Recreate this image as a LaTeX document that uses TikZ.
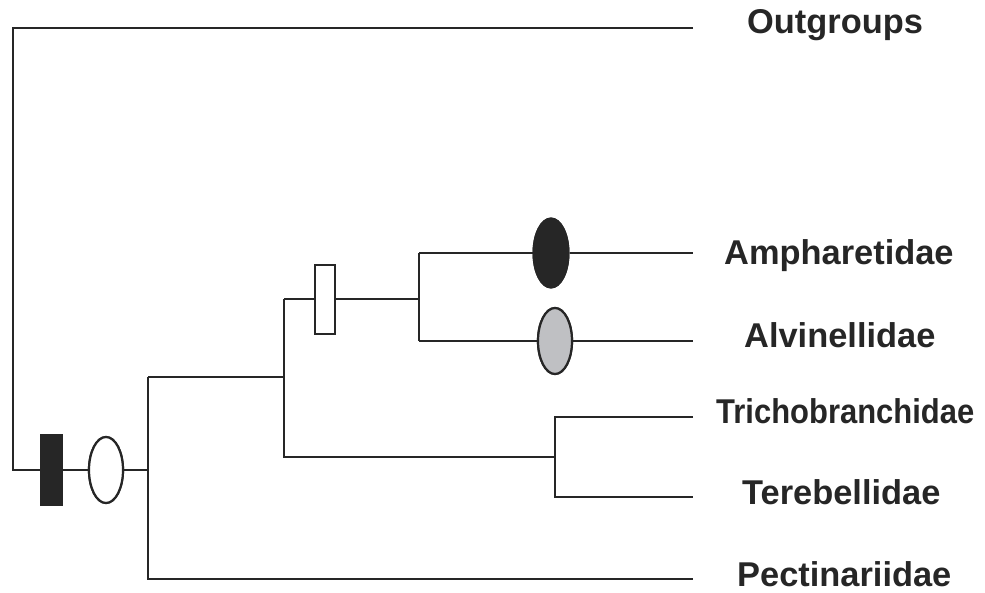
\documentclass[tikz,border=0pt]{standalone}
\usepackage{fontspec}
\setmainfont{Liberation Sans}
\usetikzlibrary{shapes.geometric}
\definecolor{ink}{HTML}{262626}
\definecolor{greyfill}{HTML}{BFC0C3}
\begin{document}
\begin{tikzpicture}[x=1pt,y=-1pt,
  branch/.style={draw=ink,line width=2.2pt,line join=miter},
  blackbar/.style={draw=ink,fill=ink,line width=1.6pt,rectangle,inner sep=0pt,minimum width=21pt,minimum height=71pt},
  whitebar/.style={draw=ink,fill=white,line width=2pt,rectangle,inner sep=0pt,minimum width=20pt,minimum height=69pt},
  openoval/.style={draw=ink,fill=white,line width=2.2pt,ellipse,inner sep=0pt,minimum width=34pt,minimum height=66pt},
  darkoval/.style={draw=ink,fill=ink,line width=2pt,ellipse,inner sep=0pt,minimum width=35pt,minimum height=69pt},
  greyoval/.style={draw=ink,fill=greyfill,line width=2.2pt,ellipse,inner sep=0pt,minimum width=34pt,minimum height=66pt},
  taxon/.style={anchor=base west,inner sep=0pt,text=ink,font=\fontsize{34.4pt}{36pt}\selectfont\bfseries}]
\useasboundingbox (0,0) rectangle (985,592);

% tree skeleton
\coordinate (root) at (13,470);
\coordinate (top) at (13,28);
\coordinate (outEnd) at (693,28);
\coordinate (ing) at (148,470);
\coordinate (ingTop) at (148,377);
\coordinate (ingBot) at (148,579);
\coordinate (pectEnd) at (693,579);
\coordinate (clA) at (284,377);
\coordinate (clATop) at (284,299);
\coordinate (clABot) at (284,457);
\coordinate (clB) at (419,299);
\coordinate (clBTop) at (419,253);
\coordinate (clBBot) at (419,341);
\coordinate (amphEnd) at (693,253);
\coordinate (alviEnd) at (693,341);
\coordinate (clC) at (555,457);
\coordinate (clCTop) at (555,417);
\coordinate (clCBot) at (555,497);
\coordinate (trichEnd) at (693,417);
\coordinate (terebEnd) at (693,497);

% character markers (placed first so the branches can run between them)
\path (51.5,470) node[blackbar] (barRoot) {};
\path (106,470) node[openoval] (ovRoot) {};
\path (325,299) node[whitebar] (barB) {};
\path (551,253) node[darkoval] (ovAmph) {};
\path (555,341) node[greyoval] (ovAlvi) {};

% branches
\draw[branch] (outEnd) -- (top) -- (root) -- (barRoot);
\draw[branch] (barRoot) -- (ovRoot);
\draw[branch] (ovRoot) -- (ing);
\draw[branch] (ingTop) -- (ingBot) -- (pectEnd);
\draw[branch] (ingTop) -- (clA);
\draw[branch] (clATop) -- (clABot) -- (clC);
\draw[branch] (clATop) -- (barB);
\draw[branch] (barB) -- (clB);
\draw[branch] (clBTop) -- (clBBot);
\draw[branch] (clBTop) -- (ovAmph);
\draw[branch] (ovAmph) -- (amphEnd);
\draw[branch] (clBBot) -- (ovAlvi);
\draw[branch] (ovAlvi) -- (alviEnd);
\draw[branch] (trichEnd) -- (clCTop) -- (clCBot) -- (terebEnd);

% markers on top of the branches
\path (barRoot) node[blackbar] {};
\path (ovRoot) node[openoval] {};
\path (barB) node[whitebar] {};
\path (ovAmph) node[darkoval] {};
\path (ovAlvi) node[greyoval] {};

% taxon labels
\node[taxon] (tOut) at (747,33) {Outgroups};
\node[taxon] (tAmph) at (724,264) {Ampharetidae};
\node[taxon] (tAlvi) at (744,347) {Alvinellidae};
\node[taxon] (tTrich) at (716,423) {\scalebox{0.9}[1]{Trichobranchidae}};
\node[taxon] (tTereb) at (742,504) {Terebellidae};
\node[taxon] (tPect) at (737,586) {Pectinariidae};
\end{tikzpicture}
\end{document}
